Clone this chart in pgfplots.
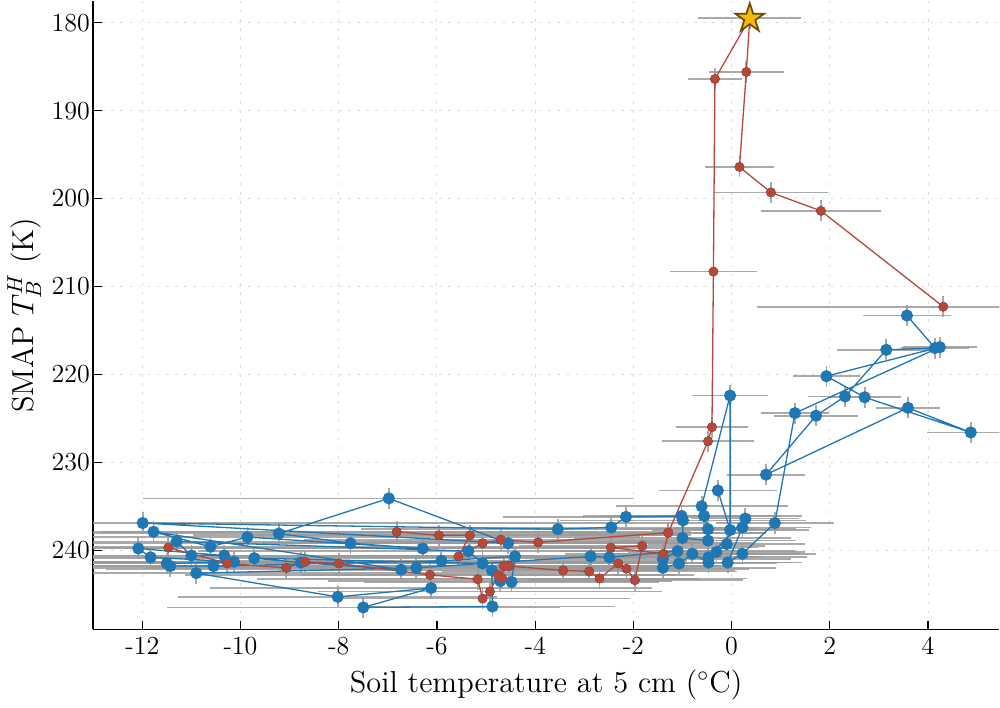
\documentclass[border=0pt]{standalone}
\usepackage{pgfplots}
\pgfplotsset{compat=1.18}
\usepackage{pgfplotstable}
\definecolor{bblue}{RGB}{31,119,180}
\definecolor{rred}{RGB}{180,72,58}
\definecolor{sgold}{RGB}{245,185,10}
\definecolor{sbrown}{RGB}{110,75,0}
\definecolor{ebar}{RGB}{155,155,155}
\definecolor{gridc}{RGB}{218,218,218}

\pgfdeclareplotmark{fstar}{%
  \pgfpathmoveto{\pgfpointpolar{90}{\pgfplotmarksize}}%
  \pgfpathlineto{\pgfpointpolar{126}{0.382\pgfplotmarksize}}%
  \pgfpathlineto{\pgfpointpolar{162}{\pgfplotmarksize}}%
  \pgfpathlineto{\pgfpointpolar{198}{0.382\pgfplotmarksize}}%
  \pgfpathlineto{\pgfpointpolar{234}{\pgfplotmarksize}}%
  \pgfpathlineto{\pgfpointpolar{270}{0.382\pgfplotmarksize}}%
  \pgfpathlineto{\pgfpointpolar{306}{\pgfplotmarksize}}%
  \pgfpathlineto{\pgfpointpolar{342}{0.382\pgfplotmarksize}}%
  \pgfpathlineto{\pgfpointpolar{18}{\pgfplotmarksize}}%
  \pgfpathlineto{\pgfpointpolar{54}{0.382\pgfplotmarksize}}%
  \pgfpathclose
  \pgfusepathqfillstroke
}

\pgfplotstableread{
x y ex ey
3.57 213.3 0.9 1.2
4.14 217.0 0.7 1.2
3.15 217.2 1.0 1.2
2.31 222.5 0.75 1.2
1.72 224.7 0.85 1.2
0.70 231.4 0.8 1.2
3.59 223.8 0.65 1.2
4.87 226.6 0.9 1.2
2.71 222.6 0.74 1.2
1.93 220.2 0.68 1.2
4.24 216.9 0.75 1.2
1.29 224.4 0.7 1.2
0.88 236.9 1.2 1.2
0.22 240.4 1.5 1.2
-0.08 241.4 1.3 1.2
0.22 237.4 1.4 1.2
0.28 236.4 1.1 1.2
-0.47 240.8 2.0 1.2
-0.10 239.3 1.6 1.2
-0.31 240.2 1.8 1.2
-0.47 241.4 1.9 1.2
-0.80 240.4 2.2 1.2
-1.07 241.5 2.0 1.2
-1.40 242.0 2.3 1.2
-1.40 241.0 2.6 1.2
-1.10 240.1 2.4 1.2
-2.49 240.8 3.0 1.2
-2.87 240.7 3.5 1.2
-6.42 242.0 5.5 1.2
-10.9 242.6 8.0 1.2
-8.02 245.3 3.25 1.2
-6.12 244.3 4.5 1.2
-7.50 246.5 4.0 1.2
-4.87 246.4 2.5 1.2
-4.88 242.3 4.0 1.2
-4.71 243.5 3.5 1.2
-4.48 243.6 3.0 1.2
-4.41 240.7 4.5 1.2
-5.91 241.2 5.0 1.2
-10.55 241.8 8.5 1.2
-11.43 241.8 9.0 1.2
-11.5 241.5 10.0 1.2
-10.13 241.3 9.0 1.2
-11.83 240.8 11.0 1.2
-12.08 239.8 10.0 1.2
-10.33 240.6 9.5 1.2
-11.0 240.6 11.0 1.2
-11.3 239.0 10.0 1.2
-5.36 240.1 5.5 1.2
-5.07 241.5 4.5 1.2
-9.72 240.9 8.0 1.2
-8.77 241.4 7.0 1.2
-6.73 242.2 6.0 1.2
-11.77 237.9 9.0 1.2
-10.61 239.6 8.5 1.2
-9.86 238.5 8.0 1.2
-6.29 239.8 6.5 1.2
-7.76 239.2 7.0 1.2
-9.22 238.1 8.0 1.2
-6.98 234.1 5.0 1.2
-4.55 239.2 5.0 1.2
-11.99 236.9 11.5 1.2
-3.54 237.6 4.0 1.2
-2.45 237.4 3.0 1.2
-2.15 236.2 2.5 1.2
-1.02 236.1 2.0 1.2
-0.99 236.6 2.5 1.2
-1.0 238.6 2.2 1.2
-0.48 238.9 1.8 1.2
-0.48 237.6 1.8 1.2
-0.56 236.1 2.0 1.2
-0.61 235.0 1.75 1.2
-0.03 222.4 0.78 1.2
-0.03 237.7 1.6 1.2
-0.28 233.2 1.2 1.2
}\blueA

\pgfplotstableread{
x y ex ey
-6.82 237.9 6.0 1.2
-5.96 238.3 5.0 1.2
-5.33 238.3 4.5 1.2
-5.56 240.7 5.0 1.2
-5.07 239.2 4.5 1.2
-4.70 238.8 4.0 1.2
-3.94 239.1 3.5 1.2
-1.29 238.0 2.0 1.2
-0.48 227.6 0.93 1.2
-0.40 226.0 0.74 1.2
-0.37 208.3 0.88 1.2
-0.34 186.4 0.55 1.2
0.37 179.5 1.05 1.2
0.30 185.6 0.77 1.2
0.16 196.4 0.71 1.2
0.80 199.3 1.16 1.2
1.82 201.4 1.22 1.2
4.31 212.3 3.8 1.2
}\redA

\pgfplotstableread{
x y ex ey
-11.47 239.7 9.0 1.2
-10.27 241.5 8.0 1.2
-9.07 242.0 7.5 1.2
-8.69 241.3 7.0 1.2
-8.0 241.5 6.5 1.2
-6.14 242.8 5.0 1.2
-5.17 243.3 4.5 1.2
-5.07 245.5 3.0 1.2
-4.92 244.7 3.5 1.2
-4.76 242.8 4.0 1.2
-4.67 243.2 4.0 1.2
-4.64 241.8 4.5 1.2
-4.54 241.8 4.5 1.2
-3.43 242.3 3.5 1.2
-2.90 242.4 3.0 1.2
-2.69 243.2 3.0 1.2
-2.31 241.5 2.5 1.2
-2.14 242.1 2.5 1.2
-1.97 243.4 2.2 1.2
-1.82 239.5 2.5 1.2
-2.46 239.7 3.0 1.2
-1.39 240.4 2.0 1.2
-1.29 238.0 2.0 1.2
}\redB

\begin{document}
\begin{tikzpicture}
\begin{axis}[
  scale only axis, width=418pt, height=290pt,
  xmin=-13, xmax=5.45, ymin=177.5, ymax=249, y dir=reverse,
  axis lines*=left,
  axis line style={line width=0.7pt},
  xtick={-12,-10,-8,-6,-4,-2,0,2,4},
  xticklabels={-12,-10,-8,-6,-4,-2,0,2,4},
  ytick={180,190,200,210,220,230,240},
  tick label style={font=\fontsize{12}{14}\selectfont},
  yticklabel shift=-2pt,
  tick align=inside, major tick length=4pt,
  tick style={black, line width=0.6pt},
  grid=major,
  major grid style={gridc, dash pattern=on 1.2pt off 3pt, line width=0.5pt},
  xlabel={Soil temperature at 5 cm ($^\circ$C)},
  ylabel={SMAP $T_B^H$ (K)},
  label style={font=\fontsize{14}{16}\selectfont},
  ylabel shift=-2pt,
]
\addplot[only marks, mark=none, error bars/.cd, x dir=both, x explicit, y dir=both, y explicit,
  error mark=none, error bar style={ebar, line width=0.8pt, opacity=0.85}]
  table[x=x, y=y, x error=ex, y error=ey]{\blueA};
\addplot[only marks, mark=none, error bars/.cd, x dir=both, x explicit, y dir=both, y explicit,
  error mark=none, error bar style={ebar, line width=0.8pt, opacity=0.85}]
  table[x=x, y=y, x error=ex, y error=ey]{\redA};
\addplot[only marks, mark=none, error bars/.cd, x dir=both, x explicit, y dir=both, y explicit,
  error mark=none, error bar style={ebar, line width=0.8pt, opacity=0.85}]
  table[x=x, y=y, x error=ex, y error=ey]{\redB};

\addplot[bblue, line width=0.6pt, mark=*, mark size=2.5pt, mark options={solid, fill=bblue, draw=bblue}]
  table[x=x, y=y]{\blueA};
\addplot[rred, line width=0.6pt, mark=*, mark size=1.9pt, mark options={solid, fill=rred, draw=rred}]
  table[x=x, y=y]{\redB};
\addplot[rred, line width=0.6pt, mark=*, mark size=1.9pt, mark options={solid, fill=rred, draw=rred}]
  table[x=x, y=y]{\redA};
\addplot[only marks, mark=fstar, mark size=7pt, mark options={fill=sgold, draw=sbrown, line width=0.8pt}]
  coordinates {(0.37,179.5)};
\end{axis}
\end{tikzpicture}
\end{document}
